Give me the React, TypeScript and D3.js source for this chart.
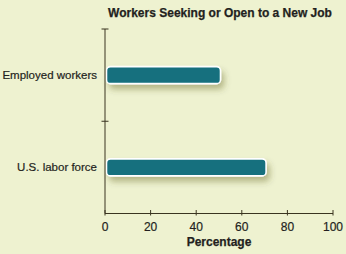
import React from "react";
import * as d3 from "d3";

const categories = ["Employed workers", "U.S. labor force"];
const values = [50, 70];
const xTicks = [0, 20, 40, 60, 80, 100];
const title = "Workers Seeking or Open to a New Job";
const xTitle = "Percentage";

const W = 346;
const H = 254;
const axisX = 105;
const axisTop = 29;
const axisBottom = 213.5;

export default function App() {
  const x = d3.scaleLinear().domain([0, 100]).range([axisX, 333]);
  const y = d3.scaleBand().domain(categories).range([axisTop, axisBottom]).paddingInner(0).paddingOuter(0);
  const barH = 17;
  const font = "'Liberation Sans', Arial, sans-serif";
  const text = "#231f20";

  return (
    <div style={{ position: "fixed", left: 0, top: 0 }}>
      <svg width={W} height={H} style={{ display: "block" }}>
        <defs>
          <filter id="barShadow" x="-10%" y="-60%" width="130%" height="300%">
            <feDropShadow dx="3" dy="5" stdDeviation="3" floodColor="#4a4a10" floodOpacity="0.35" />
          </filter>
        </defs>
        <rect width={W} height={H} fill="#eef2d0" />
        <text x={220} y={17} textAnchor="middle" fontFamily={font} fontWeight="bold" fontSize={12} fill={text} stroke={text} strokeWidth={0.25}>
          {title}
        </text>

        {/* bars */}
        {categories.map((c, i) => {
          const cy = (y(c) as number) + y.bandwidth() / 2;
          return (
            <g key={c}>
              <rect
                x={x(0) + 1.5}
                y={cy - barH / 2}
                width={x(values[i]) - x(0)}
                height={barH}
                rx={4}
                fill="#12707e"
                stroke="#ffffff"
                strokeWidth={1.6}
                filter="url(#barShadow)"
              />
              <text x={97} y={cy} dy="0.35em" textAnchor="end" fontFamily={font} fontSize={11.5} fill={text} stroke={text} strokeWidth={0.2}>
                {c}
              </text>
            </g>
          );
        })}

        {/* y axis */}
        <line x1={axisX} x2={axisX} y1={axisTop} y2={axisBottom} stroke="#3a3520" strokeWidth={1} />
        {[axisTop, axisTop + y.bandwidth()].map((ty, i) => (
          <line key={i} x1={axisX - 3.5} x2={axisX + 3.5} y1={ty} y2={ty} stroke="#3a3520" strokeWidth={1} />
        ))}

        {/* x axis */}
        <line x1={axisX} x2={x(100)} y1={axisBottom} y2={axisBottom} stroke="#3a3520" strokeWidth={1} />
        {xTicks.map((t) => (
          <g key={t}>
            <line x1={x(t)} x2={x(t)} y1={axisBottom - 3.5} y2={axisBottom + 2} stroke="#3a3520" strokeWidth={1} />
            <text x={x(t)} y={227} dy="0.35em" textAnchor="middle" fontFamily={font} fontSize={12} fill={text} stroke={text} strokeWidth={0.2}>
              {t}
            </text>
          </g>
        ))}
        <text x={219} y={242} dy="0.35em" textAnchor="middle" fontFamily={font} fontWeight="bold" fontSize={12} fill={text} stroke={text} strokeWidth={0.25}>
          {xTitle}
        </text>
      </svg>
    </div>
  );
}
